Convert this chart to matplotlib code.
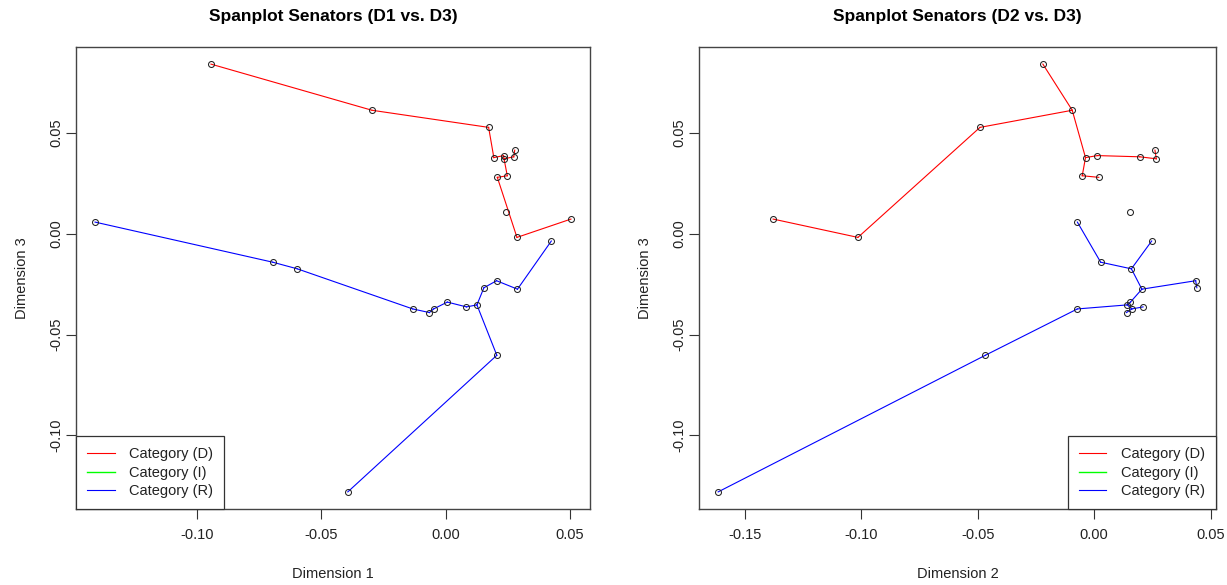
import matplotlib
matplotlib.use("Agg")
import matplotlib.pyplot as plt
import numpy as np

plt.rcParams['font.family'] = ['Liberation Sans', 'DejaVu Sans']

# ---- data (Dimension 1, Dimension 2, Dimension 3) per category ----
dem_d1 = [-0.0943, -0.0296, 0.0173, 0.0194, 0.0233, 0.0235, 0.0278, 0.0274, 0.0208, 0.0248, 0.0287, 0.0504]
dem_d2 = [-0.0220, -0.0094, -0.0490, -0.0037, 0.0014, 0.0267, 0.0261, 0.0196, 0.0020, -0.0051, -0.1014, -0.1378]
dem_d3 = [0.0842, 0.0613, 0.0528, 0.0378, 0.0388, 0.0372, 0.0415, 0.0382, 0.0280, 0.0288, -0.0018, 0.0073]

ind_d1 = [0.0241]
ind_d2 = [0.0156]
ind_d3 = [0.0110]

rep_d1 = [-0.1409, -0.0695, -0.0596, -0.0132, -0.0065, -0.0048, 0.0007, 0.0084, 0.0126, 0.0154, 0.0205, 0.0289, 0.0425, 0.0206, -0.0393]
rep_d2 = [-0.0072, 0.0028, 0.0160, -0.0072, 0.0139, 0.0162, 0.0156, 0.0210, 0.0142, 0.0441, 0.0436, 0.0205, 0.0247, -0.0467, -0.1614]
rep_d3 = [0.0058, -0.0141, -0.0174, -0.0373, -0.0391, -0.0373, -0.0339, -0.0363, -0.0353, -0.0268, -0.0233, -0.0275, -0.0036, -0.0603, -0.1281]

# spanning-tree edges (index pairs) for each panel
dem_edges_d1 = [(0, 1), (1, 2), (2, 3), (3, 4), (4, 5), (5, 7), (7, 6), (5, 9), (9, 8), (8, 10), (10, 11)]
dem_edges_d2 = [(11, 10), (10, 2), (2, 1), (1, 0), (1, 3), (3, 4), (4, 7), (7, 5), (5, 6), (3, 9), (9, 8)]
rep_edges_d1 = [(0, 1), (1, 2), (2, 3), (3, 4), (4, 5), (5, 6), (6, 7), (7, 8), (8, 9), (9, 10), (10, 11), (11, 12), (8, 13), (13, 14)]
rep_edges_d2 = [(0, 1), (1, 2), (2, 12), (2, 11), (11, 10), (10, 9), (11, 6), (6, 8), (8, 5), (5, 4), (5, 7), (3, 8), (13, 3), (14, 13)]

categories = ['Category (D)', 'Category (I)', 'Category (R)']
cat_colors = ['#FF0000', '#00FF00', '#0000FF']

titles = ['Spanplot Senators (D1 vs. D3)', 'Spanplot Senators (D2 vs. D3)']
xlabels = ['Dimension 1', 'Dimension 2']
ylabel = 'Dimension 3'
xticks_list = [[-0.10, -0.05, 0.00, 0.05], [-0.15, -0.10, -0.05, 0.00, 0.05]]
yticks = [-0.10, -0.05, 0.00, 0.05]

W, H = 1227, 585
fig = plt.figure(figsize=(W / 100, H / 100), dpi=100)

panels = [
    dict(rect=[76 / W, (H - 509) / H, 514 / W, 462 / H],
         xs=[dem_d1, ind_d1, rep_d1], edges=[dem_edges_d1, [], rep_edges_d1],
         legend_loc='lower left'),
    dict(rect=[699 / W, (H - 509) / H, 517 / W, 462 / H],
         xs=[dem_d2, ind_d2, rep_d2], edges=[dem_edges_d2, [], rep_edges_d2],
         legend_loc='lower right'),
]
ys = [dem_d3, ind_d3, rep_d3]

for p, panel in enumerate(panels):
    ax = fig.add_axes(panel['rect'])
    allx = np.concatenate([np.asarray(v) for v in panel['xs']])
    ally = np.concatenate([np.asarray(v) for v in ys])
    for xs, yv, edges, col, lab in zip(panel['xs'], ys, panel['edges'], cat_colors, categories):
        xs = np.asarray(xs)
        yv = np.asarray(yv)
        first = True
        for i, j in edges:
            ax.plot([xs[i], xs[j]], [yv[i], yv[j]], color=col, lw=0.8,
                    label=lab if first else None, zorder=2)
            first = False
        if not edges:
            ax.plot([], [], color=col, lw=1.0, label=lab)
        ax.plot(xs, yv, linestyle='none', marker='o', markersize=4.3,
                markerfacecolor='none', markeredgecolor='#222222',
                markeredgewidth=0.75, zorder=3)
    # R-style 4% padding
    xr = allx.max() - allx.min()
    yr = ally.max() - ally.min()
    ax.set_xlim(allx.min() - 0.04 * xr, allx.max() + 0.04 * xr)
    ax.set_ylim(ally.min() - 0.04 * yr, ally.max() + 0.04 * yr)

    xt = xticks_list[p]
    ax.set_xticks(xt)
    ax.set_xticklabels(['%.2f' % v for v in xt])
    ax.set_yticks(yticks)
    ax.set_yticklabels(['%.2f' % v for v in yticks], rotation=90, va='center')
    ax.tick_params(direction='out', length=7, width=0.8, colors='#333333',
                   labelsize=10.5, labelcolor='#222222', pad=7)
    ax.tick_params(axis='y', pad=2)
    for s in ax.spines.values():
        s.set_color('#444444')
        s.set_linewidth(1.0)
    ax.set_xlabel(xlabels[p], fontsize=10.5, color='#222222', labelpad=17.5)
    ax.set_ylabel(ylabel, fontsize=10.5, color='#222222', labelpad=15)
    ax.set_title(titles[p], fontsize=12.5, fontweight='bold', pad=19)

    leg = ax.legend(loc=panel['legend_loc'], borderaxespad=0, fancybox=False,
                    fontsize=10.5, handlelength=1.9, handletextpad=1.0,
                    labelspacing=0.3, borderpad=0.75, framealpha=1)
    leg.get_frame().set_edgecolor('#333333')
    leg.get_frame().set_linewidth(0.9)
    for t in leg.get_texts():
        t.set_color('#222222')

fig.savefig('out.png', dpi=100)
